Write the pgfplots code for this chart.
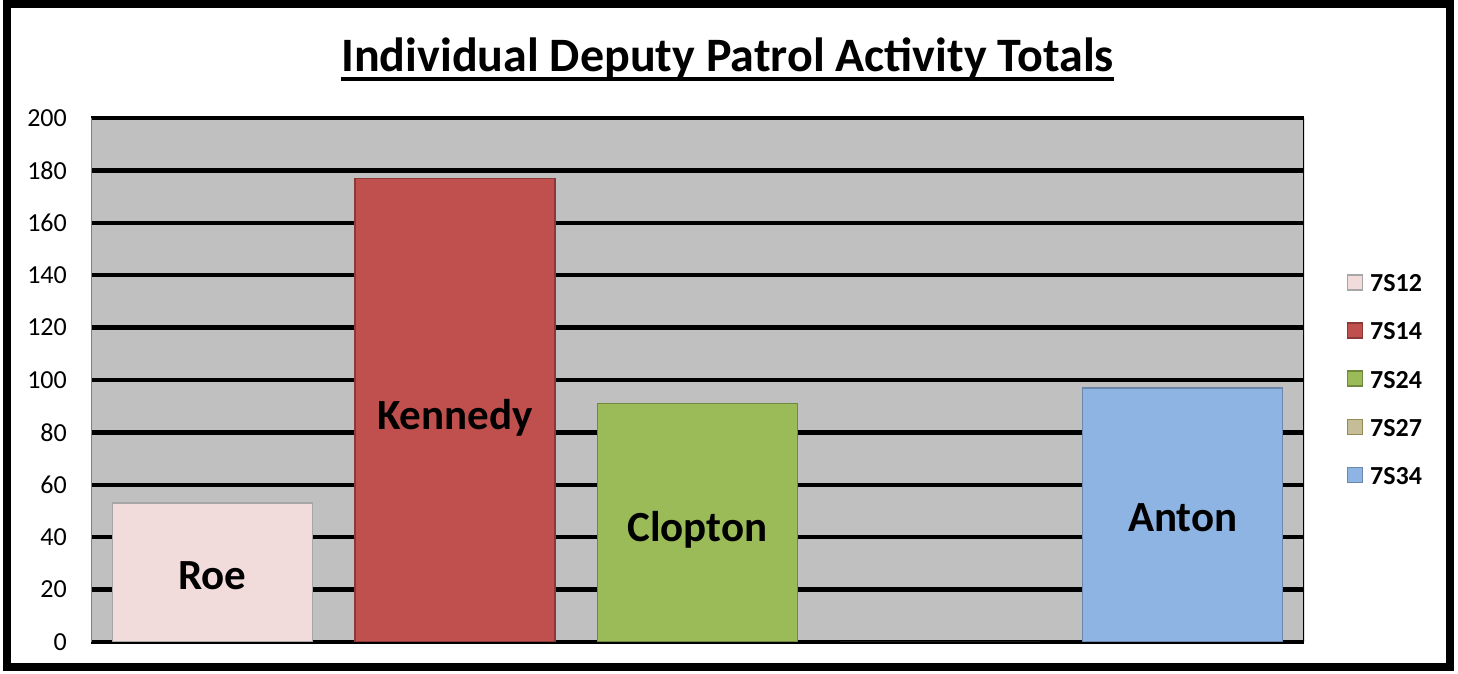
\documentclass[border=0pt]{standalone}
\usepackage{fontspec}
\setmainfont{Carlito}
\usepackage{pgfplots}
\pgfplotsset{compat=1.18}

\definecolor{plotbg}{HTML}{C0C0C0}
\definecolor{c12}{HTML}{F2DCDB}
\definecolor{c12d}{HTML}{A6A6A6}
\definecolor{c14}{HTML}{C0504D}
\definecolor{c14d}{HTML}{8C3836}
\definecolor{c24}{HTML}{9BBB59}
\definecolor{c24d}{HTML}{71893F}
\definecolor{c27}{HTML}{C4BD97}
\definecolor{c27d}{HTML}{948A54}
\definecolor{c34}{HTML}{8EB4E3}
\definecolor{c34d}{HTML}{6B87AB}

\begin{document}
\begin{tikzpicture}
\useasboundingbox (0pt,0pt) rectangle (1458pt,674pt);
\draw[line width=8pt] (7pt,7pt) rectangle (1450pt,670pt);

% title with a thick underline
\node[font=\fontsize{48}{52}\selectfont\bfseries, anchor=base, inner sep=0pt] (t) at (727.5pt,602pt) {Individual Deputy Patrol Activity Totals};
\draw[line width=3.5pt] (t.west |- 0pt,595pt) -- (t.east |- 0pt,595pt);

\begin{axis}[
  at={(91pt,32pt)}, anchor=south west,
  scale only axis, width=1213pt, height=524pt,
  xmin=-0.5, xmax=4.5, ymin=0, ymax=200,
  xtick=\empty, ytick={0,20,...,200},
  major tick length=0pt,
  ymajorgrids, grid style={black, line width=4.5pt},
  axis line style={draw=none},
  axis background/.style={fill=plotbg},
  /pgf/number format/assume math mode=true,
  yticklabel style={font=\fontsize{26}{30}\selectfont, inner sep=0pt, anchor=east, xshift=-24pt},
  legend style={at={(1.0325,0.5)}, anchor=west, draw=none, fill=none,
    font=\fontsize{26}{30}\selectfont\bfseries, row sep=29pt,
    nodes={inner sep=0pt}},
  legend cell align=left,
  legend image code/.code={\draw[#1, line width=1.5pt] (0pt,-6pt) rectangle (15pt,9pt); \path (22pt,0pt);},
]
\addplot[ybar, bar width=200pt, bar shift=0pt, fill=c12, draw=c12d, line width=1.5pt] coordinates {(0,53)};
\addlegendentry{7S12}
\addplot[ybar, bar width=200pt, bar shift=0pt, fill=c14, draw=c14d, line width=1.5pt] coordinates {(1,177)};
\addlegendentry{7S14}
\addplot[ybar, bar width=200pt, bar shift=0pt, fill=c24, draw=c24d, line width=1.5pt] coordinates {(2,91)};
\addlegendentry{7S24}
\addplot[ybar, bar width=200pt, bar shift=0pt, fill=c27, draw=none,
  legend image code/.code={\draw[fill=c27, draw=c27d, line width=1.5pt] (0pt,-6pt) rectangle (15pt,9pt); \path (22pt,0pt);}] coordinates {(3,0)};
\addlegendentry{7S27}
\addplot[ybar, bar width=200pt, bar shift=0pt, fill=c34, draw=c34d, line width=1.5pt] coordinates {(4,97)};
\addlegendentry{7S34}

% plot area side edges
\draw[gray, line width=1.5pt] (rel axis cs:0,0) -- (rel axis cs:0,1);
\draw[black, line width=2pt] (rel axis cs:1,0) -- (rel axis cs:1,1);

% data labels inside the bars
\node[font=\fontsize{43}{47}\selectfont\bfseries, anchor=base] at (axis cs:0,20) {Roe};
\node[font=\fontsize{43}{47}\selectfont\bfseries, anchor=base] at (axis cs:1,81) {Kennedy};
\node[font=\fontsize{43}{47}\selectfont\bfseries, anchor=base] at (axis cs:2,38.5) {Clopton};
\node[font=\fontsize{43}{47}\selectfont\bfseries, anchor=base] at (axis cs:4,42) {Anton};
\end{axis}
\end{tikzpicture}
\end{document}
